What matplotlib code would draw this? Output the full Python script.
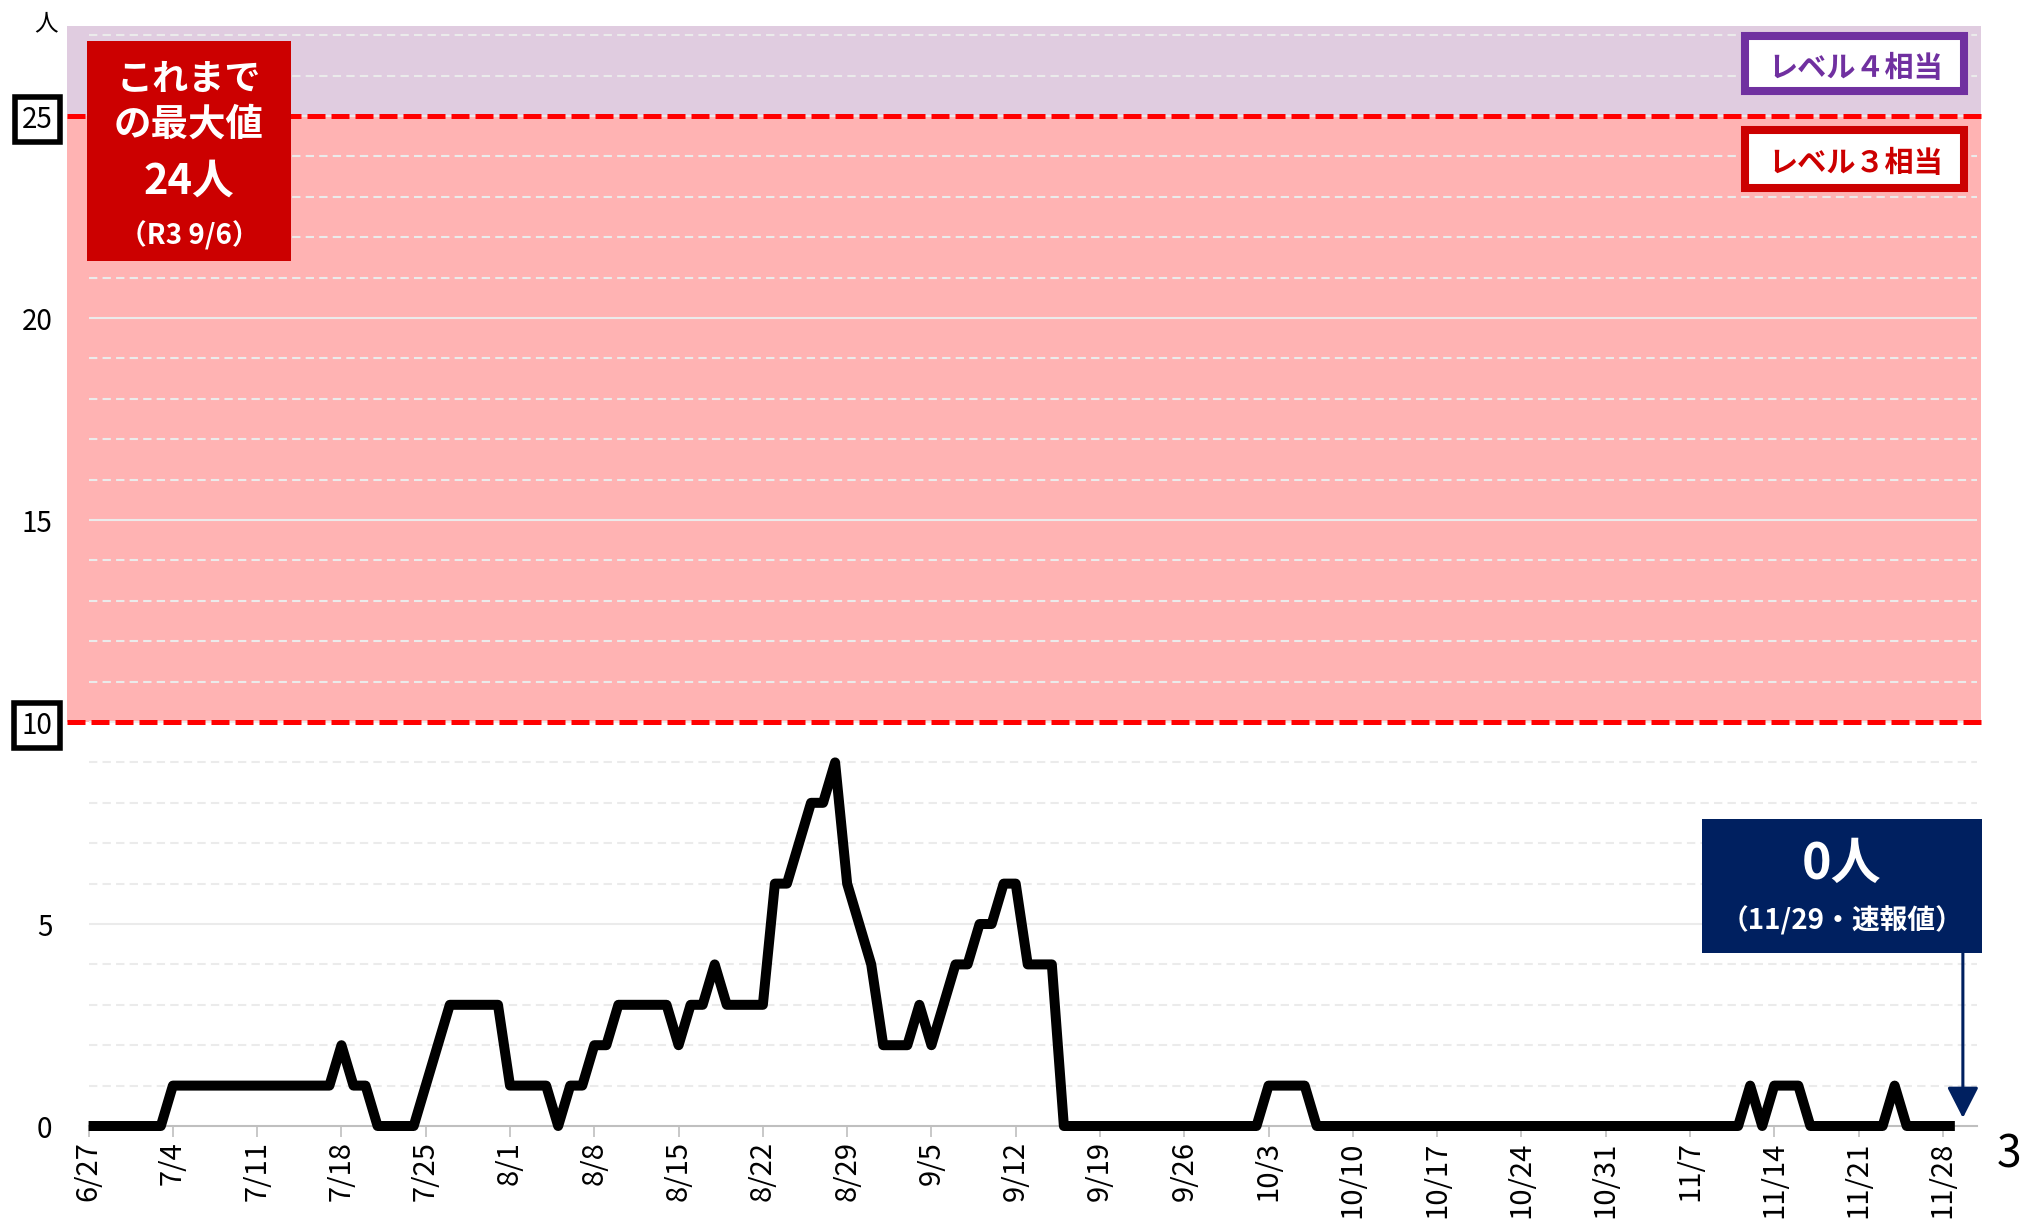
import numpy as np
import pandas as pd
import matplotlib
matplotlib.use("Agg")
import matplotlib.pyplot as plt
from matplotlib.patches import Rectangle

plt.rcParams["font.family"] = ["Noto Sans CJK JP", "DejaVu Sans"]

# 日ごとの人数 (6/27 〜 11/29)
start_date = "2021-06-27"
daily_counts = [
    0, 0, 0, 0, 0, 0, 0,      # 6/27
    1, 1, 1, 1, 1, 1, 1,      # 7/4
    1, 1, 1, 1, 1, 1, 1,      # 7/11
    2, 1, 1, 0, 0, 0, 0,      # 7/18
    1, 2, 3, 3, 3, 3, 3,      # 7/25
    1, 1, 1, 1, 0, 1, 1,      # 8/1
    2, 2, 3, 3, 3, 3, 3,      # 8/8
    2, 3, 3, 4, 3, 3, 3,      # 8/15
    3, 6, 6, 7, 8, 8, 9,      # 8/22
    6, 5, 4, 2, 2, 2, 3,      # 8/29
    2, 3, 4, 4, 5, 5, 6,      # 9/5
    6, 4, 4, 4, 0, 0, 0,      # 9/12
    0, 0, 0, 0, 0, 0, 0,      # 9/19
    0, 0, 0, 0, 0, 0, 0,      # 9/26
    1, 1, 1, 1, 0, 0, 0,      # 10/3
    0, 0, 0, 0, 0, 0, 0,      # 10/10
    0, 0, 0, 0, 0, 0, 0,      # 10/17
    0, 0, 0, 0, 0, 0, 0,      # 10/24
    0, 0, 0, 0, 0, 0, 0,      # 10/31
    0, 0, 0, 0, 0, 1, 0,      # 11/7
    1, 1, 1, 0, 0, 0, 0,      # 11/14
    0, 0, 0, 1, 0, 0, 0,      # 11/21
    0, 0,                     # 11/28
]
tick_labels = ["6/27", "7/4", "7/11", "7/18", "7/25", "8/1", "8/8", "8/15",
               "8/22", "8/29", "9/5", "9/12", "9/19", "9/26", "10/3", "10/10",
               "10/17", "10/24", "10/31", "11/7", "11/14", "11/21", "11/28"]
y_ticks = [0, 5, 10, 15, 20, 25]
level3_value = 10
level4_value = 25
y_top = 27.23
x_span_days = 156.84

record_lines = ["これまで", "の最大値", "24人", "（R3 9/6）"]
latest_lines = ["0人", "（11/29・速報値）"]

W, H = 2020, 1230
fig = plt.figure(figsize=(W / 100, H / 100), dpi=100)


def fx(px):
    return px / W


def fy(py):
    return 1 - py / H


ax = fig.add_axes([fx(88.6), fy(1126), (1977 - 88.6) / W, (1126 - 26) / H])

dates = pd.date_range(start_date, periods=len(daily_counts), freq="D")
x0 = dates[0]
ax.set_xlim(x0, x0 + pd.Timedelta(days=x_span_days))
ax.set_ylim(0, y_top)

# 背景の帯 (レベル3 / レベル4)
band_left = -22 / (1977 - 88.6)
ax.axhspan(level3_value, level4_value, xmin=band_left, xmax=1.002,
           color="#FFB3B3", lw=0, clip_on=False, zorder=0)
ax.axhspan(level4_value, y_top, xmin=band_left, xmax=1.002,
           color="#E0CCE0", lw=0, clip_on=False, zorder=0)

# 目盛線
for yv in range(1, 28):
    if yv % 5 == 0:
        ax.axhline(yv, color="#EBEBEB", lw=1.5, zorder=1)
    else:
        ax.axhline(yv, color="#EBEBEB", lw=1.5, dashes=(4, 2.5), zorder=1)

for yv in (level3_value, level4_value):
    ax.axhline(yv, xmin=band_left, xmax=1.002, color="#FF0000", lw=3.6,
               dashes=(3.6, 1.2), clip_on=False, zorder=3)

ax.plot(dates, daily_counts, color="black", lw=7.2, solid_joinstyle="round",
        solid_capstyle="butt", clip_on=False, zorder=4)

# 軸
for s in ("left", "top", "right"):
    ax.spines[s].set_visible(False)
ax.spines["bottom"].set_color("#BFBFBF")
ax.spines["bottom"].set_linewidth(1.5)
ax.spines["bottom"].set_zorder(2)

ax.set_xticks(dates[::7], labels=tick_labels)
ax.tick_params(axis="x", length=8, width=1.2, color="#BFBFBF", pad=3,
               labelsize=21, labelrotation=90)
ax.set_yticks(y_ticks, labels=[str(v) for v in y_ticks])
ax.tick_params(axis="y", length=0, pad=26, labelsize=20)
for lab in ax.get_yticklabels():
    if lab.get_text() in (str(level3_value), str(level4_value)):
        lab.set_bbox(dict(boxstyle="square,pad=0.26", fc="white", ec="black", lw=4))

fig.text(fx(46), fy(24), "人", fontsize=17, ha="center", va="center")

# これまでの最大値
fig.add_artist(Rectangle((fx(87), fy(261)), (291 - 87) / W, (261 - 41) / H,
                         transform=fig.transFigure, fc="#CC0000", ec="none"))
for txt, ypx, size in zip(record_lines, [79, 124, 182, 236], [26, 27, 30, 20]):
    fig.text(fx(189), fy(ypx), txt, color="white", fontsize=size,
             fontweight="bold", ha="center", va="center")

# レベル表示
for label, color, top, bottom in [("レベル４相当", "#7030A0", 32, 95),
                                  ("レベル３相当", "#CC0000", 126, 192)]:
    fig.add_artist(Rectangle((fx(1745), fy(bottom - 4)), (1964 - 1745) / W,
                             (bottom - top - 8) / H, transform=fig.transFigure,
                             fc="white", ec=color, lw=5.8))
    fig.text(fx(1856), fy((top + bottom) / 2 + 4), label, color=color,
             fontsize=21, fontweight="bold", ha="center", va="center")

# 最新値
navy = "#002060"
fig.add_artist(Rectangle((fx(1702), fy(953)), (1982 - 1702) / W, (953 - 819) / H,
                         transform=fig.transFigure, fc=navy, ec="none"))
fig.text(fx(1842), fy(864), latest_lines[0], color="white", fontsize=36,
         fontweight="bold", ha="center", va="center")
fig.text(fx(1842), fy(921), latest_lines[1], color="white", fontsize=20,
         fontweight="bold", ha="center", va="center")
ax.annotate("", xy=(dates[-1] + pd.Timedelta(hours=16), daily_counts[-1] + 0.2),
            xytext=(0, 119), textcoords="offset points",
            arrowprops=dict(arrowstyle="-|>,head_length=19,head_width=9.7",
                            mutation_scale=1, color=navy, lw=2.2,
                            shrinkA=0, shrinkB=0))

fig.text(fx(1997), fy(1155), "3", fontsize=32, ha="left", va="center")

fig.savefig("out.png", dpi=100)
